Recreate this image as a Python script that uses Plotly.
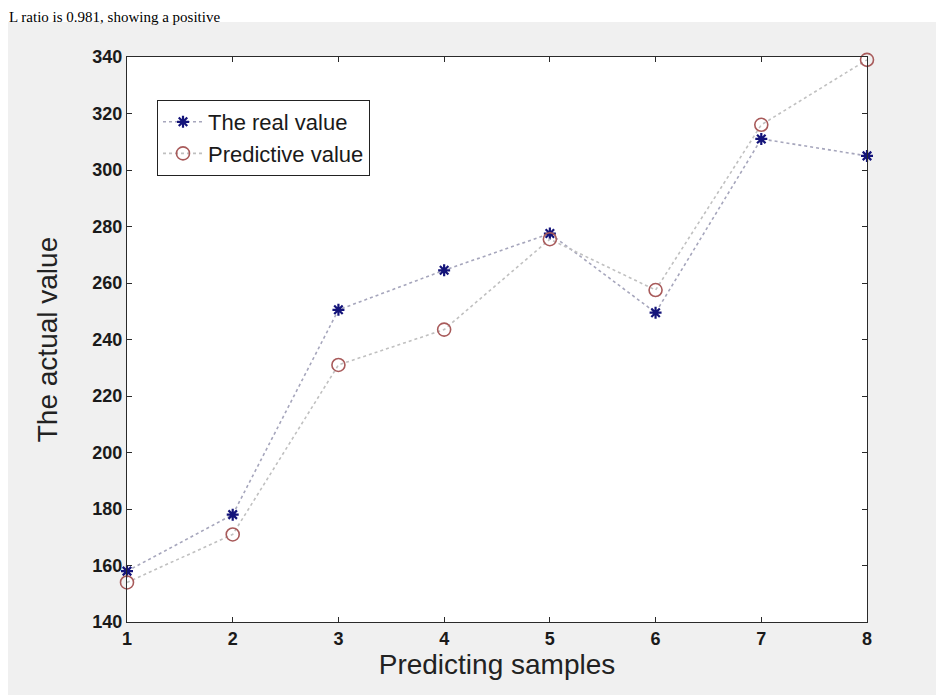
import plotly.graph_objects as go

samples = [1, 2, 3, 4, 5, 6, 7, 8]
real_values = [158, 178, 250.5, 264.5, 277.5, 249.5, 311, 305]
predictive_values = [154, 171, 231, 243.5, 275.5, 257.5, 316, 339]
y_ticks = [140, 160, 180, 200, 220, 240, 260, 280, 300, 320, 340]

OFF = 8  # page body margin
W, H = 944 - OFF, 695 - OFF
L, R, T, B = 127 - OFF, 77, 57 - OFF, 73
PW, PH = W - L - R, H - T - B


def px(xp):
    return (xp - OFF - L) / PW


def py(yp):
    return (H - B - (yp - OFF)) / PH


fig = go.Figure()
fig.add_trace(go.Scatter(
    x=samples, y=real_values, name="The real value", mode="lines+markers",
    line=dict(color="#a6a6bc", width=1.6, dash="dot"),
    marker=dict(symbol="asterisk-open", size=10, color="#14147a",
                line=dict(color="#14147a", width=2.2)),
    cliponaxis=False,
))
fig.add_trace(go.Scatter(
    x=samples, y=predictive_values, name="Predictive value", mode="lines+markers",
    line=dict(color="#c0c0c0", width=1.6, dash="dot"),
    marker=dict(symbol="circle-open", size=13, color="#a85a5a",
                line=dict(color="#a85a5a", width=1.6)),
    cliponaxis=False,
))

axis_common = dict(
    showline=True, linecolor="#2a2a2a", linewidth=1.2, mirror="ticks",
    ticks="inside", ticklen=5, tickcolor="#2a2a2a", showgrid=False, zeroline=False,
    tickfont=dict(family="Liberation Sans, Arial", size=18, color="#1a1a1a", weight="bold"),
)

fig.update_xaxes(range=[1, 8], tickvals=samples, **axis_common,
                 title=dict(text="Predicting samples", standoff=2,
                            font=dict(family="Liberation Sans, Arial", size=28, color="#222222")))
fig.update_yaxes(range=[140, 340], tickvals=y_ticks, **axis_common,
                 title=dict(text="The actual value", standoff=26,
                            font=dict(family="Liberation Sans, Arial", size=28, color="#222222")))

fig.update_layout(
    width=W, height=H,
    margin=dict(l=L, r=R, t=T, b=B, autoexpand=False),
    paper_bgcolor="#f0f0f0", plot_bgcolor="white",
    showlegend=True,
    legend=dict(x=px(157), y=py(100), xanchor="left", yanchor="top",
                bgcolor="white", bordercolor="#222222", borderwidth=1,
                font=dict(family="Liberation Sans, Arial", size=22, color="#1a1a1a"),
                tracegroupgap=0, itemwidth=40),
    shapes=[
        dict(type="rect", xref="paper", yref="paper", x0=-0.3, x1=1.3,
             y0=py(22), y1=1.3, fillcolor="white", line=dict(width=0), layer="above"),
    ],
    annotations=[
        dict(text="L ratio is 0.981, showing a positive", xref="paper", yref="paper",
             x=px(8), y=py(8), xanchor="left", yanchor="top", showarrow=False,
             borderpad=0,
             font=dict(family="Liberation Serif, Times New Roman", size=15, color="black")),
    ],
)

fig.write_html("out.html")
